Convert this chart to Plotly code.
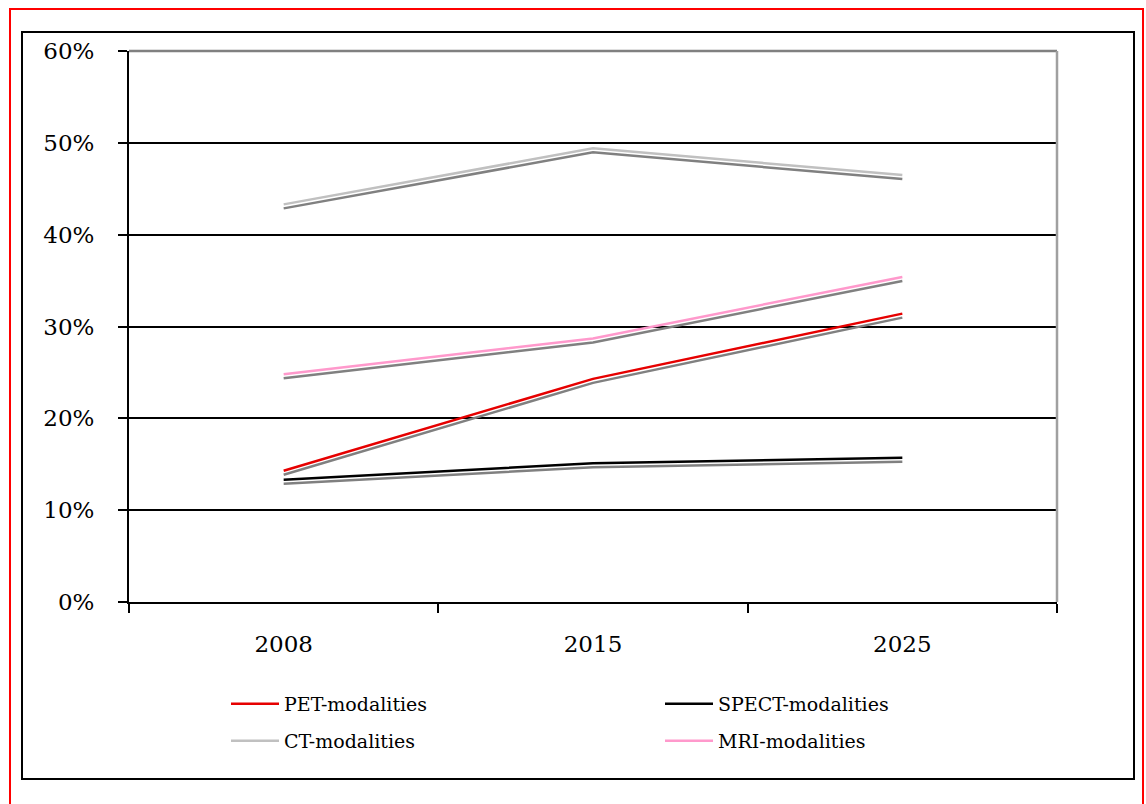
import plotly.graph_objects as go

# Share of imaging procedures by modality
years = ["2008", "2015", "2025"]
pet = [0.143, 0.243, 0.314]
spect = [0.133, 0.151, 0.157]
ct = [0.433, 0.494, 0.465]
mri = [0.248, 0.287, 0.354]

series = [
    ("PET-modalities", pet, "#E60000", "legend"),
    ("SPECT-modalities", spect, "#000000", "legend"),
    ("CT-modalities", ct, "#C0C0C0", "legend2"),
    ("MRI-modalities", mri, "#FF99CC", "legend2"),
]

W, H = 1146, 804
L, R, T, B = 129, 1057, 51, 602   # plot area in pixels
PW, PH = R - L, B - T
FONT = "DejaVu Serif, Georgia, serif"
ITEM_W = 48


def px_x(p):
    return (p - L) / PW


def px_y(p):
    return (B - p) / PH


fig = go.Figure()

# drop shadows: same data on an overlaid axis shifted a few pixels down
for name, vals, color, lg in series:
    fig.add_trace(go.Scatter(
        x=years, y=vals, mode="lines", yaxis="y2",
        line=dict(color="#808080", width=2.5),
        showlegend=False, hoverinfo="skip",
    ))

for name, vals, color, lg in series:
    fig.add_trace(go.Scatter(
        x=years, y=vals, mode="lines", name=name,
        line=dict(color=color, width=2.5), legend=lg,
    ))

shift = 4 / PH * 0.6

legend_common = dict(
    orientation="h", xanchor="left", yanchor="top",
    itemwidth=ITEM_W, entrywidth=429 - ITEM_W - 10, entrywidthmode="pixels",
    font=dict(size=19, family=FONT), bgcolor="rgba(0,0,0,0)",
)

fig.update_layout(
    width=W, height=H, autosize=False,
    margin=dict(l=L, r=W - R, t=T, b=H - B),
    paper_bgcolor="white", plot_bgcolor="white",
    font=dict(family=FONT, color="black"),
    xaxis=dict(
        type="category", range=[-0.5, 2.5],
        tickson="boundaries", ticks="outside", ticklen=9, tickwidth=2,
        tickcolor="black", showline=True, linecolor="black", linewidth=2,
        showgrid=False, tickfont=dict(size=23), ticklabelstandoff=20,
        fixedrange=True,
    ),
    yaxis=dict(
        range=[0, 0.6], dtick=0.1, tickformat=".0%",
        ticks="outside", ticklen=9, tickwidth=2, tickcolor="black",
        showline=True, linecolor="black", linewidth=2,
        showgrid=True, gridcolor="black", gridwidth=2,
        zeroline=False, tickfont=dict(size=23), ticklabelstandoff=19,
    ),
    yaxis2=dict(
        overlaying="y", range=[shift, 0.6 + shift], visible=False,
    ),
    legend=dict(x=px_x(226), y=px_y(685), **legend_common),
    legend2=dict(x=px_x(226), y=px_y(722), **legend_common),
    shapes=[
        # plot-area frame: grey top and right edges
        dict(type="line", xref="paper", yref="paper", x0=0, x1=1, y0=1, y1=1,
             line=dict(color="#808080", width=2.5), layer="above"),
        dict(type="line", xref="paper", yref="paper", x0=1, x1=1, y0=0, y1=1,
             line=dict(color="#A0A0A0", width=2.5), layer="above"),
        # chart border and outer page frame
        dict(type="rect", xref="paper", yref="paper",
             x0=px_x(22), x1=px_x(1134), y0=px_y(779), y1=px_y(32),
             line=dict(color="black", width=2)),
        dict(type="rect", xref="paper", yref="paper",
             x0=px_x(10), x1=px_x(1143), y0=px_y(830), y1=px_y(9),
             line=dict(color="#FF0000", width=2)),
    ],
)

fig.write_html("out.html")
